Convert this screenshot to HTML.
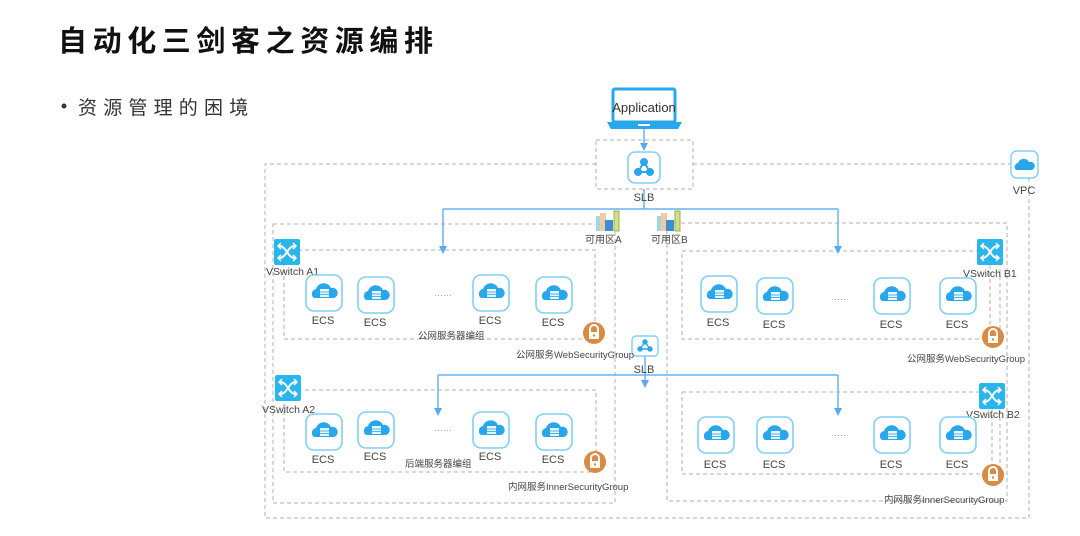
<!DOCTYPE html>
<html><head><meta charset="utf-8"><style>
html,body{margin:0;padding:0;background:#fff;width:1080px;height:536px;overflow:hidden}
svg{position:absolute;left:0;top:0}
</style></head><body>
<svg width="1080" height="536" viewBox="0 0 1080 536" xmlns="http://www.w3.org/2000/svg" font-family="Liberation Sans, Noto Sans CJK SC, sans-serif">
<defs>
<g id="ecs">
<rect x="1" y="1" width="36" height="36" rx="8" fill="#fff" stroke="#7fd0f5" stroke-width="1.6"/>
<path d="M9 24 a5 5 0 0 1 2-9 a8 8 0 0 1 15-1 a5 5 0 0 1 3 10 z" fill="#29a7ec"/>
<rect x="15" y="15" width="9" height="8" fill="#e8f6fe"/>
<line x1="15" y1="18" x2="24" y2="18" stroke="#29a7ec" stroke-width="0.8"/>
<line x1="15" y1="20.5" x2="24" y2="20.5" stroke="#29a7ec" stroke-width="0.8"/>
</g>
<g id="vsw">
<rect x="0" y="0" width="26" height="26" rx="2" fill="#29b6ec"/>
<path d="M5 7 C13 7 13 19 21 19 M5 19 C13 19 13 7 21 7" stroke="#fff" stroke-width="2" fill="none"/>
<path d="M19 4 l3 3 l-3 3 M19 16 l3 3 l-3 3 M7 4 l-3 3 l3 3 M7 16 l-3 3 l3 3" stroke="#fff" stroke-width="1.5" fill="none"/>
</g>
<g id="lock">
<circle cx="11" cy="11" r="11" fill="#d98a43"/>
<path d="M7 10 v-3 a4 4 0 0 1 8 0 v3" stroke="#fff" stroke-width="2" fill="none"/>
<rect x="6" y="10" width="10" height="7" fill="#fff"/>
<circle cx="11" cy="13.5" r="1.2" fill="#d98a43"/>
</g>
<g id="bld">
<rect x="0" y="5" width="6" height="15" fill="#9fd8e0"/>
<rect x="4" y="2" width="6" height="18" fill="#f2c9a0"/>
<rect x="9" y="9" width="8" height="11" fill="#3b8ed0"/>
<rect x="18" y="0" width="5" height="20" fill="#cfe08a" stroke="#9bb24a"/>
</g>
</defs>

<text x="58" y="51" font-size="29" font-weight="bold" letter-spacing="5.6" fill="#111">自动化三剑客之资源编排</text>
<circle cx="64" cy="106" r="2.5" fill="#333"/>
<text x="78" y="114" font-size="19" letter-spacing="6.2" fill="#333">资源管理的困境</text>

<g fill="none" stroke="#b0b0b0" stroke-width="1" stroke-dasharray="4,3">
<path d="M596 164 H265 V518 H1029 V178"/>
<path d="M693 164 H1011"/>
<rect x="596" y="140" width="97" height="49"/>
<rect x="273" y="224" width="342" height="279"/>
<rect x="667" y="223" width="340" height="278"/>
<rect x="284" y="250" width="311" height="89"/>
<rect x="682" y="251" width="318" height="88"/>
<rect x="284" y="390" width="312" height="82"/>
<rect x="682" y="392" width="318" height="82"/>
<path d="M990 265 V326 M992 408 V462 M594 342 V325 M595 470 V452"/>
</g>

<rect x="613" y="89" width="62" height="33" rx="2" fill="#fff" stroke="#29a7ec" stroke-width="3"/>
<path d="M607 122 H682 L678 129 H611 Z" fill="#29a7ec"/>
<rect x="638" y="124" width="12" height="2" fill="#fff"/>
<text x="644" y="112" font-size="13" text-anchor="middle" fill="#333">Application</text>

<g stroke="#6ab2f2" stroke-width="1.5" fill="none">
<path d="M644 129 V146"/>
<path d="M644 189 V209 M443 209 H838 M443 209 V248 M838 209 V248" />
<path d="M645 356 V375 M438 375 H838 M438 375 V410 M838 375 V410 M645 375 V382"/>
</g>
<g fill="#5aa8f0">
<path d="M640 143 h8 l-4 8z"/>
<path d="M439 246 h8 l-4 8z"/><path d="M834 246 h8 l-4 8z"/>
<path d="M434 408 h8 l-4 8z"/><path d="M834 408 h8 l-4 8z"/><path d="M641 380 h8 l-4 8z"/>
</g>

<rect x="628" y="152" width="32" height="31" rx="7" fill="#fff" stroke="#7fd0f5" stroke-width="1.6"/>
<g fill="#29a7ec" stroke="#29a7ec" stroke-width="2"><circle cx="644" cy="162" r="3"/><circle cx="638" cy="172" r="3"/><circle cx="650" cy="172" r="3"/><path d="M644 162 L638 172 H650 Z" fill="none"/></g>
<text x="644" y="201" font-size="11" text-anchor="middle" fill="#444">SLB</text>
<rect x="632" y="336" width="26" height="20" rx="4" fill="#fff" stroke="#7fd0f5" stroke-width="1.4"/>
<g fill="#29a7ec" stroke="#29a7ec" stroke-width="1.4"><circle cx="645" cy="342" r="2"/><circle cx="640" cy="349" r="2"/><circle cx="650" cy="349" r="2"/><path d="M645 342 L640 349 H650Z" fill="none"/></g>
<text x="644" y="373" font-size="11" text-anchor="middle" fill="#444">SLB</text>

<rect x="1011" y="151" width="27" height="27" rx="6" fill="#fff" stroke="#7fd0f5" stroke-width="1.4"/>
<path d="M1016 170 a4 4 0 0 1 2-7 a6 6 0 0 1 11 -1 a4 4 0 0 1 3 8z" fill="#29a7ec"/>
<text x="1024" y="194" font-size="11" text-anchor="middle" fill="#444">VPC</text>

<use href="#bld" x="596" y="211"/><use href="#bld" x="657" y="211"/>
<text x="585" y="243" font-size="10" fill="#444">可用区A</text>
<text x="651" y="243" font-size="10" fill="#444">可用区B</text>

<use href="#vsw" x="274" y="239"/><text x="266" y="275" font-size="10.5" fill="#444">VSwitch A1</text>
<use href="#vsw" x="275" y="375"/><text x="262" y="413" font-size="10.5" fill="#444">VSwitch A2</text>
<use href="#vsw" x="977" y="239"/><text x="963" y="277" font-size="10.5" fill="#444">VSwitch B1</text>
<use href="#vsw" x="979" y="383"/><text x="966" y="418" font-size="10.5" fill="#444">VSwitch B2</text>

<use href="#ecs" x="305" y="274"/><use href="#ecs" x="357" y="276"/><use href="#ecs" x="472" y="274"/><use href="#ecs" x="535" y="276"/>
<use href="#ecs" x="305" y="413"/><use href="#ecs" x="357" y="411"/><use href="#ecs" x="472" y="411"/><use href="#ecs" x="535" y="413"/>
<use href="#ecs" x="700" y="275"/><use href="#ecs" x="756" y="277"/><use href="#ecs" x="873" y="277"/><use href="#ecs" x="939" y="277"/>
<use href="#ecs" x="697" y="416"/><use href="#ecs" x="756" y="416"/><use href="#ecs" x="873" y="416"/><use href="#ecs" x="939" y="416"/>

<g font-size="11" fill="#444" text-anchor="middle">
<text x="323" y="324">ECS</text><text x="375" y="326">ECS</text><text x="490" y="324">ECS</text><text x="553" y="326">ECS</text>
<text x="323" y="463">ECS</text><text x="375" y="460">ECS</text><text x="490" y="460">ECS</text><text x="553" y="463">ECS</text>
<text x="718" y="326">ECS</text><text x="774" y="328">ECS</text><text x="891" y="328">ECS</text><text x="957" y="328">ECS</text>
<text x="715" y="468">ECS</text><text x="774" y="468">ECS</text><text x="891" y="468">ECS</text><text x="957" y="468">ECS</text>
</g>
<g font-size="9" fill="#999"><text x="434" y="296">……</text><text x="434" y="431">……</text><text x="831" y="300">……</text><text x="831" y="436">……</text></g>

<use href="#lock" x="583" y="322"/><use href="#lock" x="584" y="451"/>
<use href="#lock" x="982" y="326"/><use href="#lock" x="982" y="464"/>

<g font-size="9.5" fill="#444">
<text x="418" y="339">公网服务器编组</text>
<text x="516" y="358">公网服务WebSecurityGroup</text>
<text x="405" y="467">后端服务器编组</text>
<text x="508" y="490">内网服务InnerSecurityGroup</text>
<text x="907" y="362">公网服务WebSecurityGroup</text>
<text x="884" y="503">内网服务InnerSecurityGroup</text>
</g>
</svg>
</body></html>
